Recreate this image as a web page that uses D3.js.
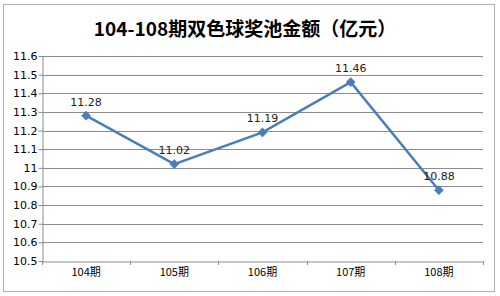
<!DOCTYPE html>
<html>
<head>
<meta charset="utf-8">
<script src="https://cdn.jsdelivr.net/npm/d3@7"></script>
<style>
  body { margin: 0; background: #fff; }
  text { font-family: "Noto Sans CJK SC", "DejaVu Sans", sans-serif; }
</style>
</head>
<body>
<div id="container"></div>
<script>
// data
const periods = ["104期", "105期", "106期", "107期", "108期"];
const pool = [11.28, 11.02, 11.19, 11.46, 10.88];
const yTicks = [10.5, 10.6, 10.7, 10.8, 10.9, 11, 11.1, 11.2, 11.3, 11.4, 11.5, 11.6];
const title = "104-108期双色球奖池金额（亿元）";

const width = 500, height = 296;
const margin = { top: 56, right: 17, bottom: 35, left: 42 };

const svg = d3.select("#container").append("svg")
  .attr("width", width)
  .attr("height", height);

// outer frame
svg.append("rect")
  .attr("x", 3.5).attr("y", 4.5)
  .attr("width", 491).attr("height", 287)
  .attr("fill", "#fff")
  .attr("stroke", "#b0b0b0");

svg.append("text")
  .attr("x", 245).attr("y", 36)
  .attr("text-anchor", "middle")
  .style("font-size", "19px")
  .style("font-weight", "bold")
  .attr("fill", "#000")
  .text(title);

const x = d3.scaleBand()
  .domain(periods)
  .range([margin.left, width - margin.right]);

const y = d3.scaleLinear()
  .domain([10.5, 11.6])
  .range([height - margin.bottom, margin.top]);

// gridlines
svg.selectAll(".grid")
  .data(yTicks.slice(1))
  .join("line")
  .attr("class", "grid")
  .attr("x1", margin.left).attr("x2", width - margin.right)
  .attr("y1", d => Math.round(y(d)) + 0.5)
  .attr("y2", d => Math.round(y(d)) + 0.5)
  .attr("stroke", "#8c8c8c");

// y axis
const yAxis = svg.append("g")
  .attr("transform", `translate(${margin.left + 0.5},0)`)
  .call(d3.axisLeft(y).tickValues(yTicks).tickFormat(d => String(d)).tickSize(4).tickSizeOuter(0));
yAxis.select(".domain").attr("stroke", "#8c8c8c");
yAxis.selectAll(".tick line").attr("stroke", "#8c8c8c");
yAxis.selectAll(".tick text")
  .attr("x", -5)
  .style("font-size", "11px")
  .style("font-family", "'DejaVu Sans', sans-serif")
  .attr("fill", "#000");

// x axis
const xAxis = svg.append("g")
  .attr("transform", `translate(0,${Math.round(y(10.5)) + 0.5})`)
  .call(d3.axisBottom(x).tickSize(0).tickSizeOuter(0));
xAxis.select(".domain").attr("stroke", "#8c8c8c");
xAxis.selectAll(".tick text")
  .attr("dy", "1.05em")
  .style("font-size", "11px")
  .attr("fill", "#000");

// category boundary ticks
const bounds = periods.map(p => x(p)).concat([x(periods[periods.length - 1]) + x.bandwidth()]);
svg.selectAll(".btick")
  .data(bounds)
  .join("line")
  .attr("class", "btick")
  .attr("x1", d => Math.round(d) + 0.5).attr("x2", d => Math.round(d) + 0.5)
  .attr("y1", y(10.5)).attr("y2", y(10.5) + 4)
  .attr("stroke", "#8c8c8c");

const cx = d => x(d) + x.bandwidth() / 2;

// line
svg.append("path")
  .datum(periods.map((p, i) => [cx(p), y(pool[i])]))
  .attr("fill", "none")
  .attr("stroke", "#4a7ebb")
  .attr("stroke-width", 2.5)
  .attr("d", d3.line());

// markers
svg.selectAll(".pt")
  .data(periods)
  .join("path")
  .attr("class", "pt")
  .attr("transform", (d, i) => `translate(${cx(d)},${y(pool[i])})`)
  .attr("d", d3.symbol(d3.symbolDiamond2, 60))
  .attr("fill", "#4a7ebb");

// labels
svg.selectAll(".lbl")
  .data(periods)
  .join("text")
  .attr("class", "lbl")
  .attr("x", d => cx(d))
  .attr("y", (d, i) => y(pool[i]) - 10)
  .attr("text-anchor", "middle")
  .style("font-size", "11px")
  .style("font-family", "'DejaVu Sans', sans-serif")
  .attr("fill", "#2a1a1a")
  .text((d, i) => pool[i].toFixed(2));
</script>
</body>
</html>
